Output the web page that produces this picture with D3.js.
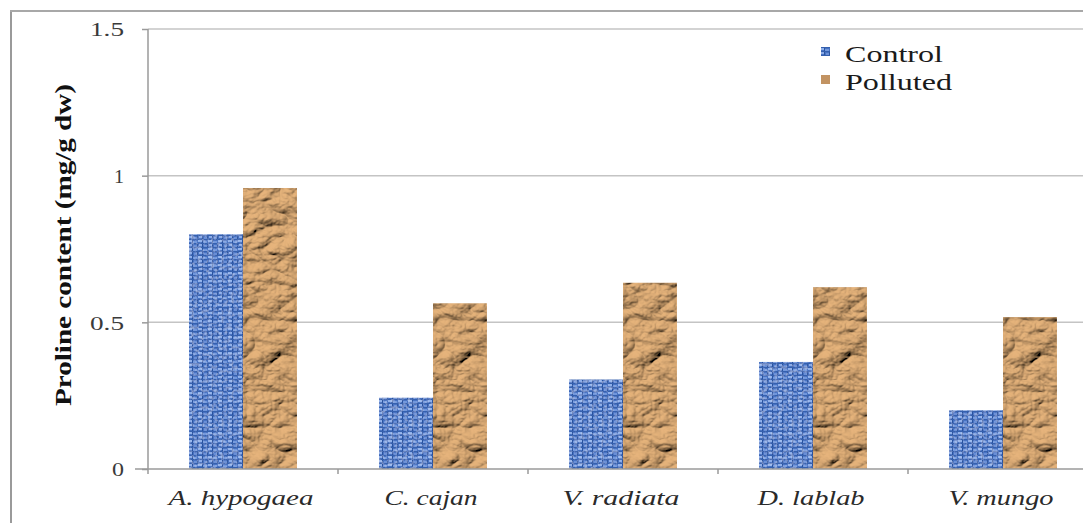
<!DOCTYPE html>
<html><head><meta charset="utf-8">
<script src="https://cdn.jsdelivr.net/npm/d3@7"></script>
<style>
body{margin:0;background:#fff}svg{display:block}
</style>
</head><body>
<svg id="c" width="1083" height="523"></svg>
<script>
const categories = ["A. hypogaea", "C. cajan", "V. radiata", "D. lablab", "V. mungo"];
const seriesNames = ["Control", "Polluted"];
const controlValues = [0.80, 0.243, 0.305, 0.365, 0.20];
const pollutedValues = [0.958, 0.565, 0.635, 0.62, 0.518];
const yTicks = [0, 0.5, 1, 1.5];
const yTickLabels = ["0", "0.5", "1", "1.5"];
const yTitle = "Proline content (mg/g dw)";

// pick an installed Times-like font
function hasFont(name){
  const c = document.createElement("canvas").getContext("2d");
  const s = "Polluted mg/g dw hypogaea 0.5";
  c.font = "40px monospace"; const a = c.measureText(s).width;
  c.font = `40px "${name}", monospace`; const b = c.measureText(s).width;
  c.font = "40px sans-serif"; const a2 = c.measureText(s).width;
  c.font = `40px "${name}", sans-serif`; const b2 = c.measureText(s).width;
  return a !== b || a2 !== b2;
}
const cands = ["Liberation Serif","Times New Roman","Tinos","Nimbus Roman","Nimbus Roman No9 L","Times","DejaVu Serif"];
const serifFont = (cands.find(hasFont) || "serif");
const FF = `"${serifFont}", serif`;

const svg = d3.select("#c");
const defs = svg.append("defs");

// Blue woven texture
const pb = defs.append("pattern").attr("id","blueTex").attr("patternUnits","userSpaceOnUse")
  .attr("width",10).attr("height",8);
pb.append("rect").attr("width",10).attr("height",8).attr("fill","#4672c2");
[[0,0,4,2,"#8fb0ea"],[5,1,4,2,"#7197dc"],[1,4,3,2,"#8aabe8"],[6,5,3,2,"#6a8fd6"],
 [4,0,1,3,"#2a539e"],[0,3,10,1,"#3560ae"],[4,4,1,3,"#2a539e"],[9,4,1,3,"#30599f"],[0,7,10,1,"#3560ae"]]
 .forEach(r=>pb.append("rect").attr("x",r[0]).attr("y",r[1]).attr("width",r[2]).attr("height",r[3]).attr("fill",r[4]));

const fb = defs.append("filter").attr("id","blueNoise").attr("x",0).attr("y",0).attr("width",1).attr("height",1);
fb.append("feTurbulence").attr("type","fractalNoise").attr("baseFrequency","0.3").attr("numOctaves",2).attr("seed",5).attr("result","n");
fb.append("feColorMatrix").attr("in","n").attr("type","matrix")
  .attr("values","0 0 0 0 0.62  0 0 0 0 0.74  0 0 0 0 0.95  1.1 0 0 0 -0.5").attr("result","nc");
fb.append("feComposite").attr("in","nc").attr("in2","SourceGraphic").attr("operator","in").attr("result","nm");
const fbm = fb.append("feMerge");
fbm.append("feMergeNode").attr("in","SourceGraphic");
fbm.append("feMergeNode").attr("in","nm");

// Crumpled paper texture
const fp = defs.append("filter").attr("id","paper").attr("x",0).attr("y",0).attr("width",1).attr("height",1);
fp.append("feTurbulence").attr("type","turbulence").attr("baseFrequency","0.03 0.042").attr("numOctaves",4).attr("seed",11).attr("result","noise");
const dl = fp.append("feDiffuseLighting").attr("in","noise").attr("lighting-color","#e6b47c")
  .attr("surfaceScale",6).attr("diffuseConstant",1.0).attr("result","light");
dl.append("feDistantLight").attr("azimuth",235).attr("elevation",52);
fp.append("feComposite").attr("in","light").attr("in2","SourceGraphic").attr("operator","in");

// Outer frame
svg.append("line").attr("x1",11).attr("x2",11).attr("y1",11).attr("y2",523).attr("stroke","#9a9a9a").attr("stroke-width",2);
svg.append("line").attr("x1",10).attr("x2",1083).attr("y1",11).attr("y2",11).attr("stroke","#a8a8a8").attr("stroke-width",2);

const x = d3.scaleBand().domain(categories).range([148, 1098]).padding(0);
const bw = x.bandwidth();
const x1 = d3.scaleBand().domain(seriesNames).range([bw*0.216, bw*0.784]).padding(0);
const y = d3.scaleLinear().domain([0, 1.5]).range([469, 29]);

// gridlines
svg.append("g").selectAll("line").data(yTicks.filter(d=>d>0)).join("line")
  .attr("x1",148).attr("x2",1083).attr("y1",d=>y(d)).attr("y2",d=>y(d))
  .attr("stroke","#c4c4c4").attr("stroke-width",1.5);

// bars
const groups = svg.append("g").selectAll("g").data(categories).join("g")
  .attr("transform",d=>`translate(${x(d)},0)`);
groups.append("rect")
  .attr("x",x1("Control")).attr("width",x1.bandwidth())
  .attr("y",(d,i)=>y(controlValues[i])).attr("height",(d,i)=>y(0)-y(controlValues[i]))
  .attr("fill","url(#blueTex)").attr("filter","url(#blueNoise)");
groups.append("rect")
  .attr("x",x1("Polluted")).attr("width",x1.bandwidth())
  .attr("y",(d,i)=>y(pollutedValues[i])).attr("height",(d,i)=>y(0)-y(pollutedValues[i]))
  .attr("fill","#c8996a").attr("filter","url(#paper)");

// y axis
const yAxis = d3.axisLeft(y).tickValues(yTicks).tickFormat((d,i)=>yTickLabels[i]).tickSize(6).tickPadding(18);
const ga = svg.append("g").attr("transform","translate(148,0)").call(yAxis);
ga.attr("font-family",FF);
ga.select(".domain").remove();
ga.append("line").attr("x1",0).attr("x2",0).attr("y1",29).attr("y2",474).attr("stroke","#9a9a9a").attr("stroke-width",1.5);
ga.selectAll(".tick line").attr("stroke","#9a9a9a").attr("stroke-width",1.5);
const tickLens = {"0":12,"0.5":34,"1":10,"1.5":34};
ga.selectAll(".tick text")
  .attr("font-size",19).attr("fill","#3a3a3a").attr("dy","0.36em")
  .attr("textLength",(d,i)=>tickLens[yTickLabels[i]]).attr("lengthAdjust","spacingAndGlyphs");

// x axis
const xAxis = d3.axisBottom(x).tickSize(0).tickFormat("");
const gx = svg.append("g").attr("transform","translate(0,469)").call(xAxis);
gx.select(".domain").remove();
gx.append("line").attr("x1",135).attr("x2",1083).attr("y1",0).attr("y2",0).attr("stroke","#9a9a9a").attr("stroke-width",1.5);
gx.selectAll(".bnd").data(categories.slice(1)).join("line").attr("class","bnd")
  .attr("x1",d=>x(d)).attr("x2",d=>x(d)).attr("y1",0).attr("y2",5)
  .attr("stroke","#9a9a9a").attr("stroke-width",1.5);
const xLens = [145, 93, 117, 107, 105];
svg.append("g").selectAll("text").data(categories).join("text")
  .attr("x",d=>x(d)+bw/2 - 2).attr("y",505)
  .attr("text-anchor","middle").attr("font-family",FF)
  .attr("font-style","italic").attr("font-size",20).attr("fill","#2a2a2a")
  .attr("textLength",(d,i)=>xLens[i]).attr("lengthAdjust","spacingAndGlyphs")
  .text(d=>d);

// y title
svg.append("text").attr("transform","translate(71,245) rotate(-90)")
  .attr("text-anchor","middle").attr("font-family",FF)
  .attr("font-weight","bold").attr("font-size",23).attr("fill","#111")
  .attr("textLength",322).attr("lengthAdjust","spacingAndGlyphs")
  .text(yTitle);

// legend
const legend = svg.append("g");
const legY = [47, 75];
const legLens = [98, 107];
seriesNames.forEach((s,i)=>{
  legend.append("rect").attr("x",821).attr("y",legY[i]).attr("width",9).attr("height",9)
    .attr("fill", i===0 ? "url(#blueTex)" : "#c29362");
  legend.append("text").attr("x",845).attr("y",legY[i]+15).attr("font-family",FF)
    .attr("font-size",23).attr("fill","#1a1a1a")
    .attr("textLength",legLens[i]).attr("lengthAdjust","spacingAndGlyphs").text(s);
});
</script>
</body></html>
